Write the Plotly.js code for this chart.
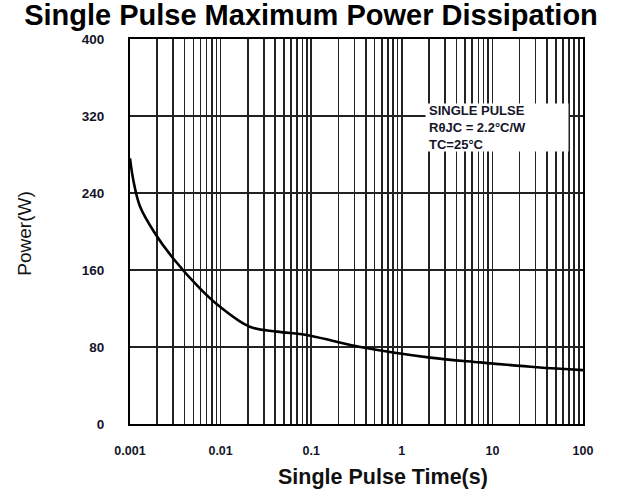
<!DOCTYPE html>
<html>
<head>
<meta charset="utf-8">
<script src="https://cdn.plot.ly/plotly-3.0.1.min.js"></script>
<style>html,body{margin:0;padding:0;background:#fff;}#chart{width:627px;height:492px;}</style>
</head>
<body>
<div id="chart"></div>
<script>
// Data
const pulseTime = [0.001, 0.00109, 0.00129, 0.00189, 0.003, 0.0059, 0.0098, 0.021, 0.042, 0.089, 0.19, 0.35, 2.05, 7.3, 31, 100];
const powerW    = [276, 253, 226, 198, 172, 141, 122, 101, 96, 92.5, 85.5, 80, 69, 64, 59, 56];
const decadeVals   = [0.001, 0.01, 0.1, 1, 10, 100];
const decadeLabels = ['0.001', '0.01', '0.1', '1', '10', '100'];
const yTickVals    = [0, 80, 160, 240, 320, 400];
const yTickLabels  = ['0', '80', '160', '240', '320', '400'];
const noteLines = ['SINGLE PULSE', 'R\u03B8JC = 2.2\u00B0C/W', 'TC=25\u00B0C'];

// x ticks: label each decade, grid at every 1..9 multiple
const xTickVals = [], xTickText = [];
decadeVals.forEach((d, i) => {
  xTickVals.push(d); xTickText.push(decadeLabels[i]);
  if (i < decadeVals.length - 1) {
    for (let m = 2; m <= 9; m++) { xTickVals.push(d * m); xTickText.push(''); }
  }
});

const FONT = 'Liberation Sans, Arial, sans-serif';
const INK = '#15152a';

const trace = {
  x: pulseTime, y: powerW, type: 'scatter', mode: 'lines',
  line: {color: '#000', width: 2.6, shape: 'spline', smoothing: 1},
  hoverinfo: 'skip', showlegend: false
};

const annotations = [
  {xref: 'paper', yref: 'paper', x: 0.651, y: 0.834, xanchor: 'left', yanchor: 'top',
   text: ' ', showarrow: false, bgcolor: '#fff', width: 142, height: 47, borderpad: 0,
   font: {size: 2}},
  {xref: 'paper', yref: 'paper', x: 0.655, y: 0.84, xanchor: 'left', yanchor: 'top',
   text: noteLines.join('<br>'), align: 'left', showarrow: false,
   font: {family: FONT, size: 13, color: INK, weight: 'bold'}},
  {xref: 'paper', yref: 'paper', x: 0.558, y: -0.138, xanchor: 'center', yanchor: 'middle',
   text: '<b>Single Pulse Time(s)</b>', showarrow: false,
   font: {family: FONT, size: 21.5, color: '#111'}},
  {xref: 'paper', yref: 'paper', x: -0.232, y: 0.494, xanchor: 'center', yanchor: 'middle',
   text: 'Power(W)', textangle: -90, showarrow: false,
   font: {family: FONT, size: 19, color: '#111'}}
];

const layout = {
  width: 627, height: 492,
  margin: {l: 130, r: 44, t: 39, b: 68},
  paper_bgcolor: '#fff', plot_bgcolor: '#fff',
  title: {
    text: '<b>Single Pulse Maximum Power Dissipation</b>',
    font: {family: FONT, size: 29, color: '#000'},
    xref: 'container', x: 0.496, xanchor: 'center',
    yref: 'container', y: 0.97, yanchor: 'middle'
  },
  xaxis: {
    type: 'log', range: [-3, 2],
    tickmode: 'array', tickvals: xTickVals, ticktext: xTickText,
    showgrid: true, gridcolor: '#222', gridwidth: 1.6,
    showline: true, mirror: true, linecolor: '#000', linewidth: 2,
    ticks: '', ticklabelstandoff: 14,
    tickfont: {family: FONT, size: 12.5, color: INK, weight: 'bold'},
    zeroline: false, fixedrange: true
  },
  yaxis: {
    range: [0, 400],
    tickmode: 'array', tickvals: yTickVals, ticktext: yTickLabels,
    showgrid: true, gridcolor: '#222', gridwidth: 1.6,
    showline: true, mirror: true, linecolor: '#000', linewidth: 2,
    ticks: '', ticklabelstandoff: 21,
    tickfont: {family: FONT, size: 13.5, color: INK, weight: 'bold'},
    zeroline: false, fixedrange: true
  },
  annotations: annotations
};

Plotly.newPlot('chart', [trace], layout, {displayModeBar: false, staticPlot: true});
</script>
</body>
</html>
